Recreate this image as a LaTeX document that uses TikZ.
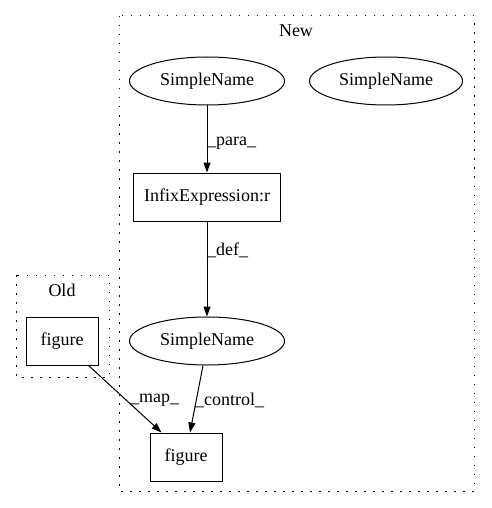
\documentclass[tikz,border=0pt]{standalone}
\usepackage{fontspec}
\setmainfont{Liberation Serif}
\usetikzlibrary{arrows.meta,shapes.geometric,calc}
\begin{document}
\begin{tikzpicture}[x=1pt,y=-1pt,
  every node/.style={font=\fontsize{18}{20}\selectfont},
  ell/.style={draw,ellipse,minimum width=155pt,minimum height=48pt,inner sep=0pt,line width=1pt},
  boxn/.style={draw,rectangle,minimum height=48pt,inner sep=0pt,line width=1pt},
  clus/.style={draw,line width=1pt,dash pattern=on 1.5pt off 7.5pt},
  edge/.style={-{Triangle[length=10pt,width=7pt]},line width=1pt},
  lbl/.style={inner sep=0pt}]
\useasboundingbox (0,0) rectangle (491,508);
% clusters
\draw[clus] (119,16) rectangle (474,491);
\node[lbl] (newlbl) at (296,31) {New};
\draw[clus] (16,275) rectangle (109,377);
\node[lbl] (oldlbl) at (62,290) {Old};
% nodes
\node[ell] (sn1) at (207,81) {SimpleName};
\node[ell,minimum width=153pt] (sn2) at (386,81) {SimpleName};
\node[boxn,minimum width=147pt] (infix) at (207,197) {InfixExpression:r};
\node[ell] (sn3) at (207,341) {SimpleName};
\node[boxn,minimum width=72pt] (oldfig) at (62,341) {figure};
\node[boxn,minimum width=72pt] (newfig) at (186,457) {figure};
% edges
\draw[edge] (sn1) -- (infix);
\node[lbl,anchor=west] (lpara) at (207,143) {\_para\_};
\draw[edge] (infix) -- (sn3);
\node[lbl,anchor=west] (ldef) at (207,250) {\_def\_};
\draw[edge] ($(sn3.south)+(-4,0)$) -- ($(newfig.north)+(4,0)$);
\node[lbl,anchor=west] (lctrl) at (195,400) {\_control\_};
\draw[edge] ($(oldfig.south east)+(-10,0)$) -- ($(newfig.north west)+(12,0)$);
\node[lbl,anchor=west] (lmap) at (130,400) {\_map\_};
\end{tikzpicture}
\end{document}
